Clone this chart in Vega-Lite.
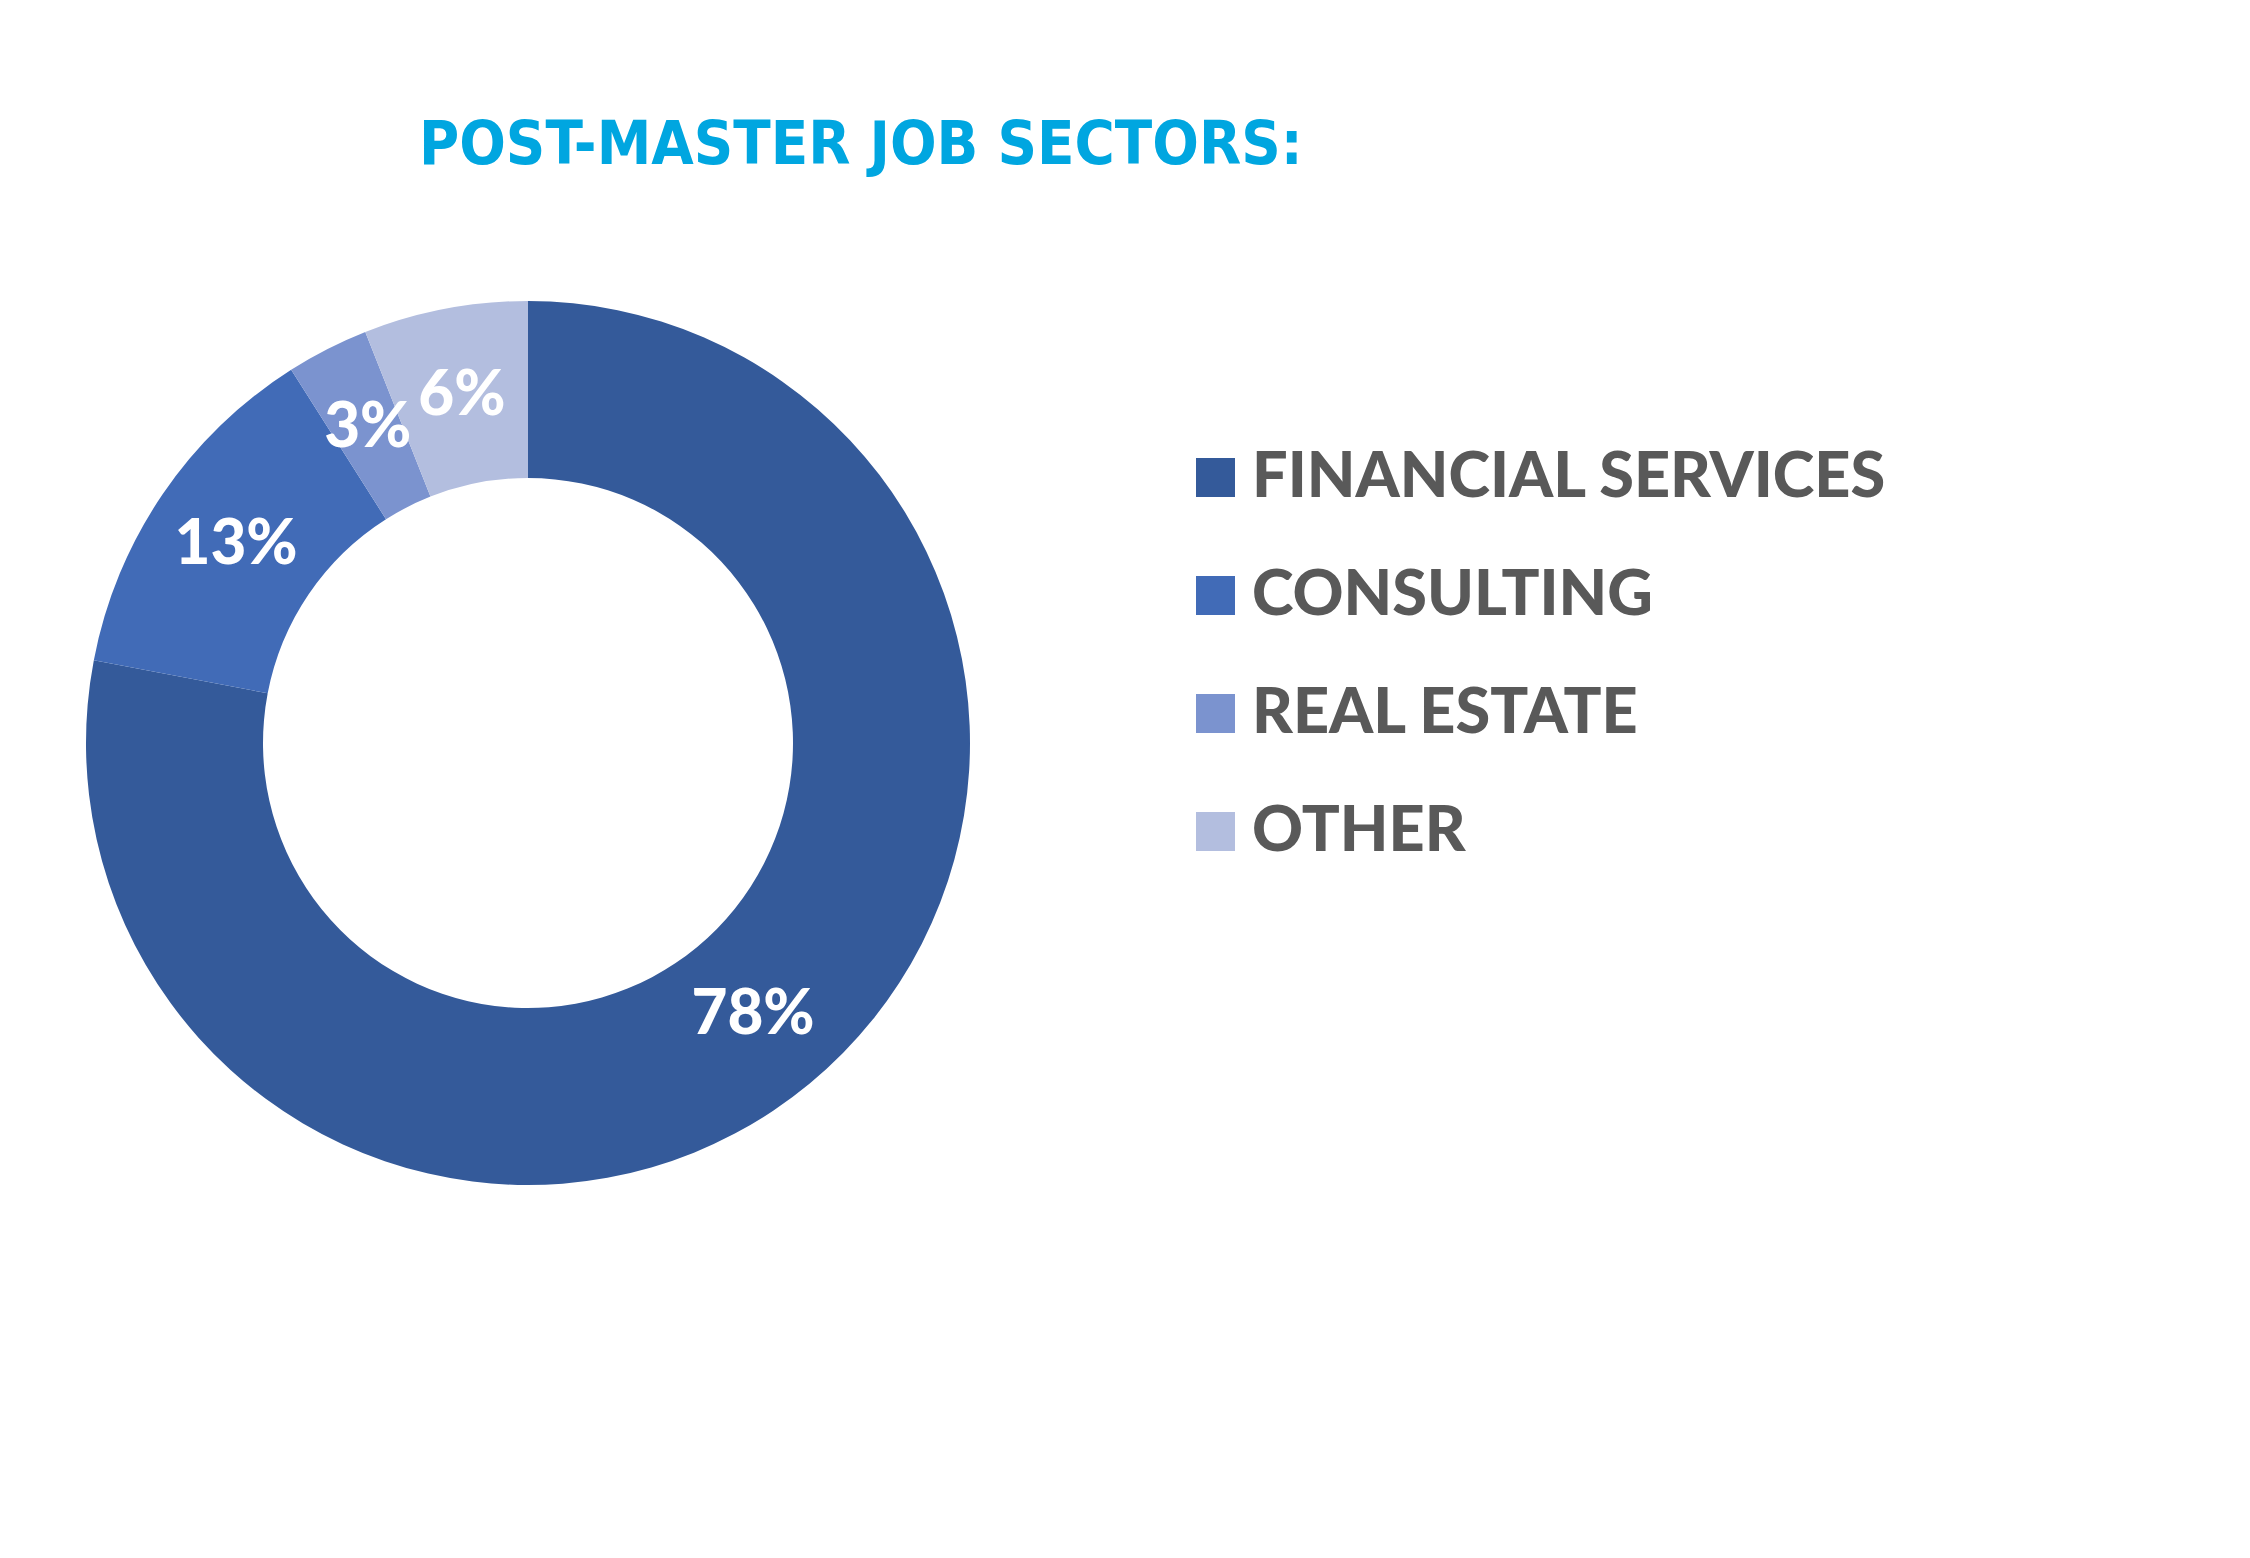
{
  "$schema": "https://vega.github.io/schema/vega-lite/v6.json",
  "autosize": {"type": "none"},
  "width": 1056,
  "height": 1486,
  "padding": {"left": 0, "top": 0, "right": 1194, "bottom": 72},
  "background": "white",
  "title": {
    "text": "POST-MASTER JOB SECTORS:",
    "anchor": "start",
    "frame": "group",
    "orient": "top",
    "offset": 0,
    "dx": 419,
    "dy": 225,
    "baseline": "alphabetic",
    "font": "DejaVu Sans Condensed, Roboto Condensed, Roboto",
    "fontWeight": "bold",
    "fontSize": 61,
    "color": "#00A6E0"
  },
  "data": {
    "values": [
      {"sector": "FINANCIAL SERVICES", "pct": 78, "label": "78%", "order": 1},
      {"sector": "CONSULTING", "pct": 13, "label": "13%", "order": 2},
      {"sector": "REAL ESTATE", "pct": 3, "label": "3%", "order": 3},
      {"sector": "OTHER", "pct": 6, "label": "6%", "order": 4}
    ]
  },
  "encoding": {
    "theta": {"field": "pct", "type": "quantitative", "stack": true},
    "order": {"field": "order", "type": "quantitative"}
  },
  "layer": [
    {
      "mark": {"type": "arc", "outerRadius": 442, "innerRadius": 265},
      "encoding": {
        "color": {
          "field": "sector",
          "type": "nominal",
          "sort": ["FINANCIAL SERVICES", "CONSULTING", "REAL ESTATE", "OTHER"],
          "scale": {
            "domain": ["FINANCIAL SERVICES", "CONSULTING", "REAL ESTATE", "OTHER"],
            "range": ["#345A9A", "#416BB7", "#7B93CF", "#B3BEDF"]
          },
          "legend": {
            "title": null,
            "orient": "none",
            "legendX": 1184,
            "legendY": 446,
            "symbolType": "square",
            "symbolSize": 1521,
            "symbolStrokeWidth": 0,
            "labelFont": "Lato",
            "labelFontWeight": 900,
            "labelFontSize": 63,
            "labelColor": "#595959",
            "labelOffset": 5,
            "rowPadding": 54,
            "labelLimit": 1000
          }
        }
      }
    },
    {
      "mark": {
        "type": "text",
        "radius": 353,
        "font": "Lato",
        "fontWeight": 900,
        "fontSize": 62,
        "color": "white",
        "align": "center",
        "baseline": "middle"
      },
      "encoding": {
        "text": {"field": "label", "type": "nominal"}
      }
    }
  ]
}
